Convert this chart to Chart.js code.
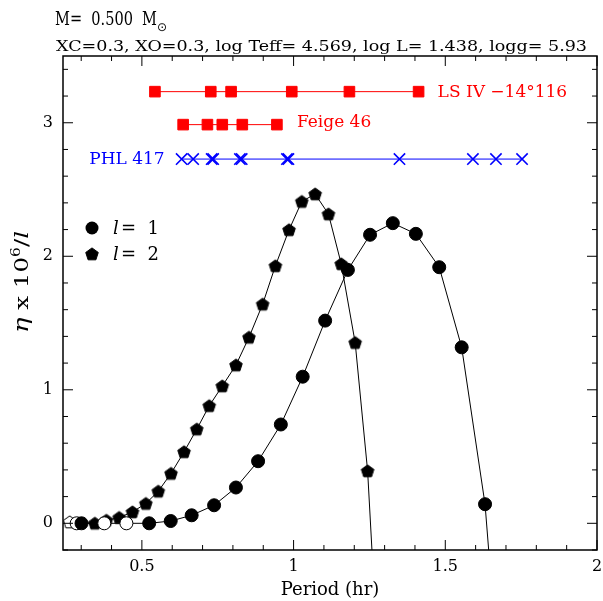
<!DOCTYPE html>
<html>
<head>
<meta charset="utf-8">
<script src="https://cdn.jsdelivr.net/npm/chart.js@4"></script>
<style>
  html, body { margin: 0; padding: 0; background: #fff; }
  #wrap { width: 603px; height: 601px; }
</style>
</head>
<body>
<div id="wrap"><canvas id="etaChart"></canvas></div>
<script>
// growth rate eta x 10^6 / l against period (hr)
const l1Period = [0.301, 0.524, 0.595, 0.664, 0.738, 0.810, 0.883, 0.958, 1.030, 1.104, 1.179, 1.252, 1.327, 1.403, 1.480, 1.554, 1.631, 1.706];
const l1Eta    = [0.000, 0.000, 0.017, 0.060, 0.135, 0.268, 0.465, 0.740, 1.098, 1.518, 1.898, 2.161, 2.248, 2.168, 1.918, 1.318, 0.143, -2.00];
// stable l=1 modes (open circles)
const l1StablePeriod = [0.285, 0.376, 0.449];
const l1StableEta    = [0.000, 0.000, 0.000];

const l2Period = [0.345, 0.383, 0.425, 0.469, 0.513, 0.554, 0.596, 0.639, 0.681, 0.722, 0.765, 0.810, 0.853, 0.898, 0.940, 0.985, 1.027, 1.071, 1.115, 1.157, 1.203, 1.244, 1.286];
const l2Eta    = [0.000, 0.022, 0.043, 0.085, 0.148, 0.240, 0.373, 0.535, 0.705, 0.880, 1.028, 1.185, 1.393, 1.641, 1.928, 2.198, 2.410, 2.466, 2.316, 1.943, 1.353, 0.392, -1.35];
// stable l=2 mode (open pentagon)
const l2StablePeriod = [0.262];
const l2StableEta    = [0.010];

// observed periods of the three stars
const lsivPeriods  = [0.543, 0.727, 0.794, 0.994, 1.184, 1.412];
const feigePeriods = [0.636, 0.716, 0.765, 0.831, 0.945];
const phlPeriods   = [0.631, 0.669, 0.730, 0.735, 0.823, 0.829, 0.978, 0.983, 1.349, 1.591, 1.667, 1.753];
const starLevels   = [3.233, 2.986, 2.728];
const starNames    = ['LS IV \u221214\u00b0116', 'Feige 46', 'PHL 417'];

const xTickValues = [0.5, 1, 1.5, 2];
const yTickValues = [0, 1, 2, 3];

const SERIF = '"DejaVu Serif", "Liberation Serif", serif';
const RED = '#ff0000';
const BLUE = '#0000ff';

function pentagon(fill) {
  const c = document.createElement('canvas');
  c.width = 16; c.height = 16;
  const g = c.getContext('2d');
  g.beginPath();
  for (let i = 0; i < 5; i++) {
    const a = -Math.PI / 2 + i * 2 * Math.PI / 5;
    const px = 8 + 6.6 * Math.cos(a), py = 8.5 + 6.6 * Math.sin(a);
    if (i === 0) g.moveTo(px, py); else g.lineTo(px, py);
  }
  g.closePath();
  g.fillStyle = fill;
  g.fill();
  g.strokeStyle = '#000';
  g.lineWidth = 1;
  g.stroke();
  return c;
}
const pentFilled = pentagon('#000');
const pentOpen = pentagon('#fff');

function merge(px, py, sx, sy) {
  const pts = px.map((x, i) => ({ x: x, y: py[i], open: false }))
    .concat(sx.map((x, i) => ({ x: x, y: sy[i], open: true })));
  return pts.sort((a, b) => a.x - b.x);
}

const l1Points = merge(l1Period, l1Eta, l1StablePeriod, l1StableEta);
const l2Points = merge(l2Period, l2Eta, l2StablePeriod, l2StableEta);

// stretch a line of text to the width it has in the figure
function wideText(ctx, text, x, y, width) {
  const w = ctx.measureText(text).width;
  ctx.save();
  ctx.translate(x, y);
  ctx.scale(width / w, 1);
  ctx.fillText(text, 0, 0);
  ctx.restore();
}

// pieces of the y axis title: [text, font, baseline shift]
const yTitleParts = [
  ['\u03b7', 'italic 20px ' + SERIF, 0],
  [' x 10', '19px ' + SERIF, 0],
  ['6', '12px ' + SERIF, -8],
  ['/', '19px ' + SERIF, 0],
  ['l', 'italic 19px ' + SERIF, 0]
];

// frame, inward ticks, titles, labels and legend
const decorations = {
  id: 'decorations',
  afterDatasetsDraw(chart) {
    const { ctx, chartArea: a, scales } = chart;
    const xs = scales.x, ys = scales.y;
    ctx.save();
    ctx.strokeStyle = '#000';
    ctx.lineWidth = 1.5;
    ctx.strokeRect(a.left, a.top, a.right - a.left, a.bottom - a.top);

    ctx.lineWidth = 1;
    ctx.beginPath();
    for (let i = 3; i <= 20; i++) {
      const v = i / 10;
      const len = (i % 5 === 0) ? 10 : 5;
      const p = xs.getPixelForValue(v);
      ctx.moveTo(p, a.bottom); ctx.lineTo(p, a.bottom - len);
      ctx.moveTo(p, a.top); ctx.lineTo(p, a.top + len);
    }
    for (let i = -1; i <= 17; i++) {
      const v = i / 5;
      const len = (i % 5 === 0) ? 10 : 5;
      const p = ys.getPixelForValue(v);
      ctx.moveTo(a.left, p); ctx.lineTo(a.left + len, p);
      ctx.moveTo(a.right, p); ctx.lineTo(a.right - len, p);
    }
    ctx.stroke();

    // header
    ctx.fillStyle = '#000';
    ctx.textBaseline = 'alphabetic';
    ctx.textAlign = 'left';
    ctx.font = '18px ' + SERIF;
    wideText(ctx, 'M=  0.500  M', 55, 25, 102);
    ctx.font = '12px "DejaVu Sans", sans-serif';
    ctx.fillText('\u2299', 157, 31);
    ctx.font = '15px ' + SERIF;
    wideText(ctx, 'XC=0.3, XO=0.3, log Teff= 4.569, log L= 1.438, logg= 5.93', 56, 51, 531);

    // y axis title, rotated
    let total = 0;
    yTitleParts.forEach(p => { ctx.font = p[1]; total += ctx.measureText(p[0]).width; });
    ctx.save();
    ctx.translate(28, 282);
    ctx.rotate(-Math.PI / 2);
    ctx.scale(102 / total, 1);
    let cx = -total / 2;
    yTitleParts.forEach(p => {
      ctx.font = p[1];
      ctx.fillText(p[0], cx, p[2]);
      cx += ctx.measureText(p[0]).width;
    });
    ctx.restore();

    // star labels
    ctx.font = '17px ' + SERIF;
    ctx.fillStyle = RED;
    ctx.fillText(starNames[0], xs.getPixelForValue(lsivPeriods[lsivPeriods.length - 1]) + 19, ys.getPixelForValue(starLevels[0]) + 5);
    ctx.fillText(starNames[1], xs.getPixelForValue(feigePeriods[feigePeriods.length - 1]) + 20, ys.getPixelForValue(starLevels[1]) + 2);
    ctx.fillStyle = BLUE;
    ctx.textAlign = 'right';
    ctx.fillText(starNames[2], xs.getPixelForValue(phlPeriods[0]) - 17, ys.getPixelForValue(starLevels[2]) + 5);

    // legend
    ctx.textAlign = 'left';
    ctx.fillStyle = '#000';
    ctx.beginPath();
    ctx.arc(a.left + 29, 228, 6.5, 0, Math.PI * 2);
    ctx.fill();
    ctx.drawImage(pentFilled, a.left + 21, 246);
    ctx.font = 'italic 18px ' + SERIF;
    ctx.fillText('l', a.left + 50, 234);
    ctx.fillText('l', a.left + 50, 260);
    ctx.font = '18px ' + SERIF;
    ctx.fillText('=  1', a.left + 58, 234);
    ctx.fillText('=  2', a.left + 58, 260);
    ctx.restore();
  }
};

function starSet(periods, level, color, style, radius, width) {
  return {
    data: periods.map(p => ({ x: p, y: level })),
    borderColor: color,
    backgroundColor: color,
    borderWidth: 1,
    pointStyle: style,
    pointRadius: radius,
    pointBorderWidth: width,
    pointBorderColor: color,
    pointBackgroundColor: color,
    showLine: true
  };
}

new Chart(document.getElementById('etaChart'), {
  type: 'scatter',
  data: {
    datasets: [
      {
        data: l1Points,
        showLine: true,
        borderColor: '#000',
        borderWidth: 1,
        pointStyle: 'circle',
        pointRadius: 6.5,
        pointBorderWidth: 1,
        pointBorderColor: '#000',
        pointBackgroundColor: c => (c.raw && c.raw.open) ? '#fff' : '#000'
      },
      {
        data: l2Points,
        showLine: true,
        borderColor: '#000',
        borderWidth: 1,
        pointStyle: c => (c.raw && c.raw.open) ? pentOpen : pentFilled
      },
      starSet(lsivPeriods, starLevels[0], RED, 'rect', 7.5, 1),
      starSet(feigePeriods, starLevels[1], RED, 'rect', 7.5, 1),
      starSet(phlPeriods, starLevels[2], BLUE, 'crossRot', 8, 1.6)
    ]
  },
  options: {
    responsive: true,
    maintainAspectRatio: false,
    animation: false,
    layout: { autoPadding: false, padding: { top: 56, right: 6, left: 0, bottom: 0 } },
    plugins: { legend: { display: false }, tooltip: { enabled: false }, title: { display: false } },
    scales: {
      x: {
        type: 'linear',
        min: 0.24,
        max: 2,
        afterBuildTicks: s => { s.ticks = xTickValues.map(v => ({ value: v })); },
        afterFit: s => { s.height = 51; s.paddingLeft = 0; s.paddingRight = 0; },
        grid: { display: false, drawTicks: false },
        border: { display: false },
        ticks: { color: '#000', font: { family: SERIF, size: 16 }, padding: 7, maxRotation: 0, callback: v => String(v) },
        title: { display: true, text: 'Period (hr)', color: '#000', font: { family: SERIF, size: 18 }, padding: { top: 0, bottom: 0 } }
      },
      y: {
        type: 'linear',
        min: -0.2,
        max: 3.5,
        afterBuildTicks: s => { s.ticks = yTickValues.map(v => ({ value: v })); },
        afterFit: s => { s.width = 63; },
        grid: { display: false, drawTicks: false },
        border: { display: false },
        ticks: { color: '#000', font: { family: SERIF, size: 16 }, padding: 10, callback: v => String(v) },
        title: { display: false }
      }
    }
  },
  plugins: [decorations]
});
</script>
</body>
</html>
